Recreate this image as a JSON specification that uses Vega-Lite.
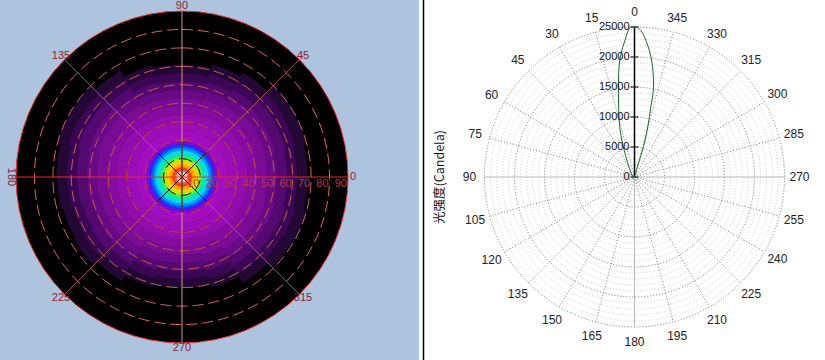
{"$schema":"https://vega.github.io/schema/vega-lite/v6.json","width":825,"height":360,"padding":0,"autosize":{"type":"none"},"background":"white","config":{"view":{"stroke":null}},
"resolve":{"scale":{"x":"independent","y":"independent","theta":"independent","radius":"independent"}},
"datasets":{
"heat":[
{"a":0,"b":360,"r":0,"s":3.3,"i":100},{"a":0,"b":360,"r":3.3,"s":4.4,"i":97},{"a":0,"b":360,"r":4.4,"s":5.5,"i":95},{"a":0,"b":360,"r":5.5,"s":7,"i":92},{"a":0,"b":360,"r":7,"s":8.5,"i":89},{"a":0,"b":360,"r":8.5,"s":9.8,"i":85},{"a":0,"b":360,"r":9.8,"s":11,"i":81},{"a":0,"b":360,"r":11,"s":12,"i":78},{"a":0,"b":360,"r":12,"s":13.2,"i":75},{"a":0,"b":360,"r":13.2,"s":14.5,"i":72},{"a":0,"b":360,"r":14.5,"s":15.8,"i":69},{"a":0,"b":360,"r":15.8,"s":17,"i":65},{"a":0,"b":360,"r":17,"s":18,"i":61},{"a":0,"b":360,"r":18,"s":19,"i":57},{"a":0,"b":360,"r":19,"s":20.5,"i":53},{"a":0,"b":360,"r":20.5,"s":22,"i":50},{"a":0,"b":360,"r":22,"s":25,"i":47},
{"a":0,"b":15,"r":25,"s":30.4,"i":42},{"a":0,"b":15,"r":30.4,"s":35.8,"i":36},{"a":0,"b":15,"r":35.8,"s":41.1,"i":30},{"a":0,"b":15,"r":41.1,"s":46.5,"i":24},{"a":0,"b":15,"r":46.5,"s":51.9,"i":18},{"a":0,"b":15,"r":51.9,"s":57.3,"i":12},{"a":0,"b":15,"r":57.3,"s":62.6,"i":7},{"a":0,"b":15,"r":62.6,"s":68,"i":3},
{"a":15,"b":30,"r":25,"s":30.6,"i":42},{"a":15,"b":30,"r":30.6,"s":36.1,"i":36},{"a":15,"b":30,"r":36.1,"s":41.7,"i":30},{"a":15,"b":30,"r":41.7,"s":47.2,"i":24},{"a":15,"b":30,"r":47.2,"s":52.8,"i":18},{"a":15,"b":30,"r":52.8,"s":58.4,"i":12},{"a":15,"b":30,"r":58.4,"s":63.9,"i":7},{"a":15,"b":30,"r":63.9,"s":69.5,"i":3},
{"a":30,"b":45,"r":25,"s":30.6,"i":42},{"a":30,"b":45,"r":30.6,"s":36.2,"i":36},{"a":30,"b":45,"r":36.2,"s":41.9,"i":30},{"a":30,"b":45,"r":41.9,"s":47.5,"i":24},{"a":30,"b":45,"r":47.5,"s":53.1,"i":18},{"a":30,"b":45,"r":53.1,"s":58.7,"i":12},{"a":30,"b":45,"r":58.7,"s":64.4,"i":7},{"a":30,"b":45,"r":64.4,"s":70,"i":3},
{"a":45,"b":60,"r":25,"s":30.1,"i":42},{"a":45,"b":60,"r":30.1,"s":35.1,"i":36},{"a":45,"b":60,"r":35.1,"s":40.2,"i":30},{"a":45,"b":60,"r":40.2,"s":45.2,"i":24},{"a":45,"b":60,"r":45.2,"s":50.3,"i":18},{"a":45,"b":60,"r":50.3,"s":55.4,"i":12},{"a":45,"b":60,"r":55.4,"s":60.4,"i":7},{"a":45,"b":60,"r":60.4,"s":65.5,"i":3},
{"a":60,"b":75,"r":25,"s":29.7,"i":42},{"a":60,"b":75,"r":29.7,"s":34.5,"i":36},{"a":60,"b":75,"r":34.5,"s":39.2,"i":30},{"a":60,"b":75,"r":39.2,"s":44,"i":24},{"a":60,"b":75,"r":44,"s":48.7,"i":18},{"a":60,"b":75,"r":48.7,"s":53.5,"i":12},{"a":60,"b":75,"r":53.5,"s":58.2,"i":7},{"a":60,"b":75,"r":58.2,"s":63,"i":3},
{"a":75,"b":105,"r":25,"s":29.5,"i":42},{"a":75,"b":105,"r":29.5,"s":34,"i":36},{"a":75,"b":105,"r":34,"s":38.5,"i":30},{"a":75,"b":105,"r":38.5,"s":43,"i":24},{"a":75,"b":105,"r":43,"s":47.5,"i":18},{"a":75,"b":105,"r":47.5,"s":52,"i":12},{"a":75,"b":105,"r":52,"s":56.5,"i":7},{"a":75,"b":105,"r":56.5,"s":61,"i":3},
{"a":105,"b":120,"r":25,"s":29.7,"i":42},{"a":105,"b":120,"r":29.7,"s":34.4,"i":36},{"a":105,"b":120,"r":34.4,"s":39.1,"i":30},{"a":105,"b":120,"r":39.1,"s":43.7,"i":24},{"a":105,"b":120,"r":43.7,"s":48.4,"i":18},{"a":105,"b":120,"r":48.4,"s":53.1,"i":12},{"a":105,"b":120,"r":53.1,"s":57.8,"i":7},{"a":105,"b":120,"r":57.8,"s":62.5,"i":3},
{"a":120,"b":135,"r":25,"s":30.2,"i":42},{"a":120,"b":135,"r":30.2,"s":35.4,"i":36},{"a":120,"b":135,"r":35.4,"s":40.6,"i":30},{"a":120,"b":135,"r":40.6,"s":45.7,"i":24},{"a":120,"b":135,"r":45.7,"s":50.9,"i":18},{"a":120,"b":135,"r":50.9,"s":56.1,"i":12},{"a":120,"b":135,"r":56.1,"s":61.3,"i":7},{"a":120,"b":135,"r":61.3,"s":66.5,"i":3},
{"a":135,"b":150,"r":25,"s":30.6,"i":42},{"a":135,"b":150,"r":30.6,"s":36.1,"i":36},{"a":135,"b":150,"r":36.1,"s":41.7,"i":30},{"a":135,"b":150,"r":41.7,"s":47.2,"i":24},{"a":135,"b":150,"r":47.2,"s":52.8,"i":18},{"a":135,"b":150,"r":52.8,"s":58.4,"i":12},{"a":135,"b":150,"r":58.4,"s":63.9,"i":7},{"a":135,"b":150,"r":63.9,"s":69.5,"i":3},
{"a":150,"b":165,"r":25,"s":30.6,"i":42},{"a":150,"b":165,"r":30.6,"s":36.2,"i":36},{"a":150,"b":165,"r":36.2,"s":41.9,"i":30},{"a":150,"b":165,"r":41.9,"s":47.5,"i":24},{"a":150,"b":165,"r":47.5,"s":53.1,"i":18},{"a":150,"b":165,"r":53.1,"s":58.7,"i":12},{"a":150,"b":165,"r":58.7,"s":64.4,"i":7},{"a":150,"b":165,"r":64.4,"s":70,"i":3},
{"a":165,"b":180,"r":25,"s":30.4,"i":42},{"a":165,"b":180,"r":30.4,"s":35.8,"i":36},{"a":165,"b":180,"r":35.8,"s":41.1,"i":30},{"a":165,"b":180,"r":41.1,"s":46.5,"i":24},{"a":165,"b":180,"r":46.5,"s":51.9,"i":18},{"a":165,"b":180,"r":51.9,"s":57.3,"i":12},{"a":165,"b":180,"r":57.3,"s":62.6,"i":7},{"a":165,"b":180,"r":62.6,"s":68,"i":3},
{"a":180,"b":195,"r":25,"s":30.3,"i":42},{"a":180,"b":195,"r":30.3,"s":35.6,"i":36},{"a":180,"b":195,"r":35.6,"s":40.9,"i":30},{"a":180,"b":195,"r":40.9,"s":46.2,"i":24},{"a":180,"b":195,"r":46.2,"s":51.6,"i":18},{"a":180,"b":195,"r":51.6,"s":56.9,"i":12},{"a":180,"b":195,"r":56.9,"s":62.2,"i":7},{"a":180,"b":195,"r":62.2,"s":67.5,"i":3},
{"a":195,"b":210,"r":25,"s":30.2,"i":42},{"a":195,"b":210,"r":30.2,"s":35.4,"i":36},{"a":195,"b":210,"r":35.4,"s":40.6,"i":30},{"a":195,"b":210,"r":40.6,"s":45.7,"i":24},{"a":195,"b":210,"r":45.7,"s":50.9,"i":18},{"a":195,"b":210,"r":50.9,"s":56.1,"i":12},{"a":195,"b":210,"r":56.1,"s":61.3,"i":7},{"a":195,"b":210,"r":61.3,"s":66.5,"i":3},
{"a":210,"b":225,"r":25,"s":30.3,"i":42},{"a":210,"b":225,"r":30.3,"s":35.6,"i":36},{"a":210,"b":225,"r":35.6,"s":40.9,"i":30},{"a":210,"b":225,"r":40.9,"s":46.2,"i":24},{"a":210,"b":225,"r":46.2,"s":51.6,"i":18},{"a":210,"b":225,"r":51.6,"s":56.9,"i":12},{"a":210,"b":225,"r":56.9,"s":62.2,"i":7},{"a":210,"b":225,"r":62.2,"s":67.5,"i":3},
{"a":225,"b":240,"r":25,"s":30,"i":42},{"a":225,"b":240,"r":30,"s":35,"i":36},{"a":225,"b":240,"r":35,"s":40,"i":30},{"a":225,"b":240,"r":40,"s":45,"i":24},{"a":225,"b":240,"r":45,"s":50,"i":18},{"a":225,"b":240,"r":50,"s":55,"i":12},{"a":225,"b":240,"r":55,"s":60,"i":7},{"a":225,"b":240,"r":60,"s":65,"i":3},
{"a":240,"b":255,"r":25,"s":29.6,"i":42},{"a":240,"b":255,"r":29.6,"s":34.1,"i":36},{"a":240,"b":255,"r":34.1,"s":38.7,"i":30},{"a":240,"b":255,"r":38.7,"s":43.2,"i":24},{"a":240,"b":255,"r":43.2,"s":47.8,"i":18},{"a":240,"b":255,"r":47.8,"s":52.4,"i":12},{"a":240,"b":255,"r":52.4,"s":56.9,"i":7},{"a":240,"b":255,"r":56.9,"s":61.5,"i":3},
{"a":255,"b":285,"r":25,"s":29.4,"i":42},{"a":255,"b":285,"r":29.4,"s":33.7,"i":36},{"a":255,"b":285,"r":33.7,"s":38.1,"i":30},{"a":255,"b":285,"r":38.1,"s":42.5,"i":24},{"a":255,"b":285,"r":42.5,"s":46.9,"i":18},{"a":255,"b":285,"r":46.9,"s":51.2,"i":12},{"a":255,"b":285,"r":51.2,"s":55.6,"i":7},{"a":255,"b":285,"r":55.6,"s":60,"i":3},
{"a":285,"b":300,"r":25,"s":29.6,"i":42},{"a":285,"b":300,"r":29.6,"s":34.2,"i":36},{"a":285,"b":300,"r":34.2,"s":38.9,"i":30},{"a":285,"b":300,"r":38.9,"s":43.5,"i":24},{"a":285,"b":300,"r":43.5,"s":48.1,"i":18},{"a":285,"b":300,"r":48.1,"s":52.7,"i":12},{"a":285,"b":300,"r":52.7,"s":57.4,"i":7},{"a":285,"b":300,"r":57.4,"s":62,"i":3},
{"a":300,"b":315,"r":25,"s":30.1,"i":42},{"a":300,"b":315,"r":30.1,"s":35.2,"i":36},{"a":300,"b":315,"r":35.2,"s":40.4,"i":30},{"a":300,"b":315,"r":40.4,"s":45.5,"i":24},{"a":300,"b":315,"r":45.5,"s":50.6,"i":18},{"a":300,"b":315,"r":50.6,"s":55.7,"i":12},{"a":300,"b":315,"r":55.7,"s":60.9,"i":7},{"a":300,"b":315,"r":60.9,"s":66,"i":3},
{"a":315,"b":330,"r":25,"s":30.5,"i":42},{"a":315,"b":330,"r":30.5,"s":36,"i":36},{"a":315,"b":330,"r":36,"s":41.5,"i":30},{"a":315,"b":330,"r":41.5,"s":47,"i":24},{"a":315,"b":330,"r":47,"s":52.5,"i":18},{"a":315,"b":330,"r":52.5,"s":58,"i":12},{"a":315,"b":330,"r":58,"s":63.5,"i":7},{"a":315,"b":330,"r":63.5,"s":69,"i":3},
{"a":330,"b":345,"r":25,"s":30.6,"i":42},{"a":330,"b":345,"r":30.6,"s":36.1,"i":36},{"a":330,"b":345,"r":36.1,"s":41.7,"i":30},{"a":330,"b":345,"r":41.7,"s":47.3,"i":24},{"a":330,"b":345,"r":47.3,"s":52.9,"i":18},{"a":330,"b":345,"r":52.9,"s":58.4,"i":12},{"a":330,"b":345,"r":58.4,"s":64,"i":7},{"a":330,"b":345,"r":64,"s":69.6,"i":3},
{"a":345,"b":360,"r":25,"s":30.4,"i":42},{"a":345,"b":360,"r":30.4,"s":35.8,"i":36},{"a":345,"b":360,"r":35.8,"s":41.1,"i":30},{"a":345,"b":360,"r":41.1,"s":46.5,"i":24},{"a":345,"b":360,"r":46.5,"s":51.9,"i":18},{"a":345,"b":360,"r":51.9,"s":57.3,"i":12},{"a":345,"b":360,"r":57.3,"s":62.6,"i":7},{"a":345,"b":360,"r":62.6,"s":68,"i":3}
],
"leftRings":[{"r":10},{"r":20},{"r":30},{"r":40},{"r":50},{"r":60},{"r":70},{"r":80}],
"leftSpokes":[
{"x":-63.6,"y":-63.6,"x2":63.6,"y2":63.6,"k":"diag"},{"x":-63.6,"y":63.6,"x2":63.6,"y2":-63.6,"k":"diag"},{"x":0,"y":-90,"x2":0,"y2":90,"k":"vert"},
{"x":-13.4,"y":-13.4,"x2":13.4,"y2":13.4,"k":"core"},{"x":-13.4,"y":13.4,"x2":13.4,"y2":-13.4,"k":"core"},{"x":0,"y":-19,"x2":0,"y2":19,"k":"core"},
{"x":-90,"y":0,"x2":90,"y2":0,"k":"horz"}],
"leftAngles":[{"a":0,"t":"0"},{"a":45,"t":"45"},{"a":90,"t":"90"},{"a":135,"t":"135"},{"a":225,"t":"225"},{"a":270,"t":"270"},{"a":315,"t":"315"}],
"leftRadial":[{"x":10,"t":"10"},{"x":20,"t":"20"},{"x":30,"t":"30"},{"x":40,"t":"40"},{"x":50,"t":"50"},{"x":60,"t":"60"},{"x":70,"t":"70"},{"x":80,"t":"80"},{"x":90,"t":"90"}],
"minorRings":[{"r":1000},{"r":2000},{"r":3000},{"r":4000},{"r":6000},{"r":7000},{"r":8000},{"r":9000},{"r":11000},{"r":12000},{"r":13000},{"r":14000},{"r":16000},{"r":17000},{"r":18000},{"r":19000},{"r":21000},{"r":22000},{"r":23000},{"r":24000}],
"majorRings":[{"r":5000},{"r":10000},{"r":15000},{"r":20000},{"r":25000}],
"spokes":[
{"x":-6470,"y":24148,"x2":6470,"y2":-24148},{"x":-12500,"y":21651,"x2":12500,"y2":-21651},{"x":-17678,"y":17678,"x2":17678,"y2":-17678},{"x":-21651,"y":12500,"x2":21651,"y2":-12500},{"x":-24148,"y":6470,"x2":24148,"y2":-6470},
{"x":-24148,"y":-6470,"x2":24148,"y2":6470},{"x":-21651,"y":-12500,"x2":21651,"y2":12500},{"x":-17678,"y":-17678,"x2":17678,"y2":17678},{"x":-12500,"y":-21651,"x2":12500,"y2":21651},{"x":-6470,"y":-24148,"x2":6470,"y2":24148}],
"axes":[{"x":0,"y":-25000,"x2":0,"y2":25000},{"x":-25000,"y":0,"x2":25000,"y2":0}],
"rightAngles":[{"a":0},{"a":15},{"a":30},{"a":45},{"a":60},{"a":75},{"a":90},{"a":105},{"a":120},{"a":135},{"a":150},{"a":165},{"a":180},{"a":195},{"a":210},{"a":225},{"a":240},{"a":255},{"a":270},{"a":285},{"a":300},{"a":315},{"a":330},{"a":345}],
"ticks":[{"x":-667,"x2":667,"x0":0,"v":0},{"x":-667,"x2":667,"x0":0,"v":5000},{"x":-667,"x2":667,"x0":0,"v":10000},{"x":-667,"x2":667,"x0":0,"v":15000},{"x":-667,"x2":667,"x0":0,"v":20000},{"x":-667,"x2":667,"x0":0,"v":25000}],
"curve":[
{"n":0,"x":0,"y":0},{"n":1,"x":667,"y":2280},{"n":2,"x":1500,"y":5060},{"n":3,"x":2220,"y":8400},{"n":4,"x":2720,"y":11730},{"n":5,"x":3170,"y":14790},{"n":6,"x":3000,"y":18400},{"n":7,"x":2450,"y":21180},{"n":8,"x":1500,"y":23690},{"n":9,"x":670,"y":24800},{"n":10,"x":0,"y":25000},
{"n":11,"x":-890,"y":24700},{"n":12,"x":-1560,"y":22850},{"n":13,"x":-2220,"y":20630},{"n":14,"x":-2610,"y":17850},{"n":15,"x":-2670,"y":13960},{"n":16,"x":-2560,"y":9510},{"n":17,"x":-2110,"y":6170},{"n":18,"x":-1280,"y":2840},{"n":19,"x":-440,"y":330},{"n":20,"x":0,"y":0}]
},
"layer":[
{"data":{"values":[{"x":-98.67,"x2":128.5,"y":-99.2,"y2":95.97}]},"mark":{"type":"rect","fill":"#AEC3DD"},
"encoding":{"x":{"field":"x","type":"quantitative","scale":{"domain":[-98.67,128.5],"range":[0,419],"nice":false,"zero":false},"axis":null},"x2":{"field":"x2"},"y":{"field":"y","type":"quantitative","scale":{"domain":[-99.2,95.97],"nice":false,"zero":false},"axis":null},"y2":{"field":"y2"}}},
{"data":{"values":[{"r":90}]},"mark":{"type":"arc","theta":0,"theta2":6.2832,"fill":"#000000"},
"encoding":{"x":{"datum":0,"type":"quantitative","scale":{"domain":[-98.67,128.5],"range":[0,419],"nice":false,"zero":false},"axis":null},"y":{"datum":0,"type":"quantitative","scale":{"domain":[-99.2,95.97],"nice":false,"zero":false},"axis":null},
"radius":{"field":"r","type":"quantitative","stack":null,"scale":{"type":"linear","domain":[0,90],"range":[0,166]}}}},
{"data":{"name":"heat"},"mark":{"type":"arc","strokeWidth":0.6},
"encoding":{"x":{"datum":0,"type":"quantitative","scale":{"domain":[-98.67,128.5],"range":[0,419],"nice":false,"zero":false},"axis":null},"y":{"datum":0,"type":"quantitative","scale":{"domain":[-99.2,95.97],"nice":false,"zero":false},"axis":null},
"theta":{"field":"a","type":"quantitative","stack":null,"scale":{"domain":[0,360],"range":[1.5708,-4.7124]}},"theta2":{"field":"b"},
"radius":{"field":"s","type":"quantitative","stack":null,"scale":{"type":"linear","domain":[0,90],"range":[0,166]}},"radius2":{"field":"r"},
"fill":{"field":"i","type":"quantitative","legend":null,"scale":{"domain":[0,1,4,10,20,35,50,57,62,68,72,76,80,84,88,92,95,97,100],"range":["#000000","#14021e","#2c0640","#4c0868","#700a8c","#920cac","#a80fc6","#7010e0","#2020f8","#1088f8","#10d8f0","#10f0b0","#40f060","#b0f010","#ffe000","#ffa000","#ff4010","#ff5050","#ffffff"]}},
"stroke":{"field":"i","type":"quantitative","legend":null,"scale":{"domain":[0,1,4,10,20,35,50,57,62,68,72,76,80,84,88,92,95,97,100],"range":["#000000","#14021e","#2c0640","#4c0868","#700a8c","#920cac","#a80fc6","#7010e0","#2020f8","#1088f8","#10d8f0","#10f0b0","#40f060","#b0f010","#ffe000","#ffa000","#ff4010","#ff5050","#ffffff"]}}}},
{"data":{"name":"leftRings"},"mark":{"type":"arc","theta":0,"theta2":6.2832,"filled":false,"strokeWidth":1,"strokeDash":[11,5]},
"encoding":{"x":{"datum":0,"type":"quantitative","scale":{"domain":[-98.67,128.5],"range":[0,419],"nice":false,"zero":false},"axis":null},"y":{"datum":0,"type":"quantitative","scale":{"domain":[-99.2,95.97],"nice":false,"zero":false},"axis":null},
"radius":{"field":"r","type":"quantitative","stack":null,"scale":{"type":"linear","domain":[0,90],"range":[0,166]}},
"stroke":{"field":"r","type":"ordinal","legend":null,"scale":{"domain":[10,20,30,40,50,60,70,80],"range":["#101010","#c84a10","#c04c28","#c05432","#c85a40","#c86050","#d86070","#e86070"]}}}},
{"data":{"values":[{"r":90}]},"mark":{"type":"arc","theta":0,"theta2":6.2832,"filled":false,"strokeWidth":1,"stroke":"#f03038"},
"encoding":{"x":{"datum":0,"type":"quantitative","scale":{"domain":[-98.67,128.5],"range":[0,419],"nice":false,"zero":false},"axis":null},"y":{"datum":0,"type":"quantitative","scale":{"domain":[-99.2,95.97],"nice":false,"zero":false},"axis":null},
"radius":{"field":"r","type":"quantitative","stack":null,"scale":{"type":"linear","domain":[0,90],"range":[0,166]}}}},
{"data":{"name":"leftSpokes"},"transform":[{"filter":"datum.k=='diag'"}],"mark":{"type":"rule","strokeWidth":1,"stroke":"#c8685a","opacity":0.8},
"encoding":{"x":{"field":"x","type":"quantitative","scale":{"domain":[-98.67,128.5],"range":[0,419],"nice":false,"zero":false},"axis":null},"y":{"field":"y","type":"quantitative","scale":{"domain":[-99.2,95.97],"nice":false,"zero":false},"axis":null},"x2":{"field":"x2"},"y2":{"field":"y2"}}},
{"data":{"name":"leftSpokes"},"transform":[{"filter":"datum.k=='vert'"}],"mark":{"type":"rule","strokeWidth":1,"stroke":"#d09880"},
"encoding":{"x":{"field":"x","type":"quantitative","scale":{"domain":[-98.67,128.5],"range":[0,419],"nice":false,"zero":false},"axis":null},"y":{"field":"y","type":"quantitative","scale":{"domain":[-99.2,95.97],"nice":false,"zero":false},"axis":null},"x2":{"field":"x2"},"y2":{"field":"y2"}}},
{"data":{"name":"leftSpokes"},"transform":[{"filter":"datum.k=='core'"}],"mark":{"type":"rule","strokeWidth":1,"stroke":"#101010"},
"encoding":{"x":{"field":"x","type":"quantitative","scale":{"domain":[-98.67,128.5],"range":[0,419],"nice":false,"zero":false},"axis":null},"y":{"field":"y","type":"quantitative","scale":{"domain":[-99.2,95.97],"nice":false,"zero":false},"axis":null},"x2":{"field":"x2"},"y2":{"field":"y2"}}},
{"data":{"name":"leftSpokes"},"transform":[{"filter":"datum.k=='horz'"}],"mark":{"type":"rule","strokeWidth":1,"stroke":"#ee2a1c"},
"encoding":{"x":{"field":"x","type":"quantitative","scale":{"domain":[-98.67,128.5],"range":[0,419],"nice":false,"zero":false},"axis":null},"y":{"field":"y","type":"quantitative","scale":{"domain":[-99.2,95.97],"nice":false,"zero":false},"axis":null},"x2":{"field":"x2"},"y2":{"field":"y2"}}},
{"data":{"name":"leftAngles"},"mark":{"type":"text","font":"Liberation Sans","fontSize":11,"color":"#8a1c34","align":"center","baseline":"middle"},
"encoding":{"x":{"datum":0,"type":"quantitative","scale":{"domain":[-98.67,128.5],"range":[0,419],"nice":false,"zero":false},"axis":null},"y":{"datum":0,"type":"quantitative","scale":{"domain":[-99.2,95.97],"nice":false,"zero":false},"axis":null},
"theta":{"field":"a","type":"quantitative","stack":null,"scale":{"domain":[0,360],"range":[1.5708,-4.7124]}},
"radius":{"datum":92.8,"type":"quantitative","scale":{"type":"linear","domain":[0,90],"range":[0,166]}},"text":{"field":"t"}}},
{"data":{"values":[{"x":-92.5,"y":0,"t":"180"}]},"mark":{"type":"text","font":"Liberation Sans","fontSize":11,"color":"#8a1c34","align":"center","baseline":"middle","angle":90},
"encoding":{"x":{"field":"x","type":"quantitative","scale":{"domain":[-98.67,128.5],"range":[0,419],"nice":false,"zero":false},"axis":null},"y":{"field":"y","type":"quantitative","scale":{"domain":[-99.2,95.97],"nice":false,"zero":false},"axis":null},"text":{"field":"t"}}},
{"data":{"name":"leftRadial"},"mark":{"type":"text","font":"Liberation Sans","fontSize":11,"color":"#b03c50","align":"right","baseline":"middle","dx":-1,"dy":7},
"encoding":{"x":{"field":"x","type":"quantitative","scale":{"domain":[-98.67,128.5],"range":[0,419],"nice":false,"zero":false},"axis":null},"y":{"datum":0,"type":"quantitative","scale":{"domain":[-99.2,95.97],"nice":false,"zero":false},"axis":null},"text":{"field":"t"}}},
{"data":{"values":[{"x":-35167}]},"mark":{"type":"rule","stroke":"#000000","strokeWidth":1.5},
"encoding":{"x":{"field":"x","type":"quantitative","scale":{"domain":[-35417,31750],"range":[422,825],"nice":false,"zero":false},"axis":null}}},
{"data":{"name":"minorRings"},"mark":{"type":"arc","theta":0,"theta2":6.2832,"filled":false,"stroke":"#cccccc","strokeWidth":1,"strokeDash":[1,2]},
"encoding":{"x":{"datum":0,"type":"quantitative","scale":{"domain":[-35417,31750],"range":[422,825],"nice":false,"zero":false},"axis":null},"y":{"datum":0,"type":"quantitative","scale":{"domain":[-30500,29500],"nice":false,"zero":false},"axis":null},
"radius":{"field":"r","type":"quantitative","stack":null,"scale":{"type":"linear","domain":[0,25000],"range":[0,150]}}}},
{"data":{"name":"majorRings"},"mark":{"type":"arc","theta":0,"theta2":6.2832,"filled":false,"stroke":"#707070","strokeWidth":1,"strokeDash":[1,2]},
"encoding":{"x":{"datum":0,"type":"quantitative","scale":{"domain":[-35417,31750],"range":[422,825],"nice":false,"zero":false},"axis":null},"y":{"datum":0,"type":"quantitative","scale":{"domain":[-30500,29500],"nice":false,"zero":false},"axis":null},
"radius":{"field":"r","type":"quantitative","stack":null,"scale":{"type":"linear","domain":[0,25000],"range":[0,150]}}}},
{"data":{"name":"spokes"},"mark":{"type":"rule","stroke":"#808080","strokeWidth":1,"strokeDash":[1,2]},
"encoding":{"x":{"field":"x","type":"quantitative","scale":{"domain":[-35417,31750],"range":[422,825],"nice":false,"zero":false},"axis":null},"y":{"field":"y","type":"quantitative","scale":{"domain":[-30500,29500],"nice":false,"zero":false},"axis":null},"x2":{"field":"x2"},"y2":{"field":"y2"}}},
{"data":{"name":"axes"},"mark":{"type":"rule","stroke":"#b8b8b8","strokeWidth":1},
"encoding":{"x":{"field":"x","type":"quantitative","scale":{"domain":[-35417,31750],"range":[422,825],"nice":false,"zero":false},"axis":null},"y":{"field":"y","type":"quantitative","scale":{"domain":[-30500,29500],"nice":false,"zero":false},"axis":null},"x2":{"field":"x2"},"y2":{"field":"y2"}}},
{"data":{"name":"rightAngles"},"mark":{"type":"text","font":"Liberation Sans","fontSize":12,"color":"#222222","align":"center","baseline":"middle"},
"encoding":{"x":{"datum":0,"type":"quantitative","scale":{"domain":[-35417,31750],"range":[422,825],"nice":false,"zero":false},"axis":null},"y":{"datum":0,"type":"quantitative","scale":{"domain":[-30500,29500],"nice":false,"zero":false},"axis":null},
"theta":{"field":"a","type":"quantitative","stack":null,"scale":{"domain":[0,360],"range":[0,-6.2832]}},
"radius":{"datum":27500,"type":"quantitative","scale":{"type":"linear","domain":[0,25000],"range":[0,150]}},"text":{"field":"a","type":"nominal"}}},
{"data":{"values":[{"x":0,"x2":0,"y":0,"y2":25000}]},"mark":{"type":"rule","stroke":"#000000","strokeWidth":1.5},
"encoding":{"x":{"field":"x","type":"quantitative","scale":{"domain":[-35417,31750],"range":[422,825],"nice":false,"zero":false},"axis":null},"x2":{"field":"x2"},"y":{"field":"y","type":"quantitative","scale":{"domain":[-30500,29500],"nice":false,"zero":false},"axis":null},"y2":{"field":"y2"}}},
{"data":{"name":"ticks"},"mark":{"type":"rule","stroke":"#000000","strokeWidth":1},
"encoding":{"x":{"field":"x","type":"quantitative","scale":{"domain":[-35417,31750],"range":[422,825],"nice":false,"zero":false},"axis":null},"x2":{"field":"x2"},"y":{"field":"v","type":"quantitative","scale":{"domain":[-30500,29500],"nice":false,"zero":false},"axis":null}}},
{"data":{"name":"curve"},"mark":{"type":"line","stroke":"#1a6a2a","strokeWidth":1,"interpolate":"cardinal"},
"encoding":{"x":{"field":"x","type":"quantitative","scale":{"domain":[-35417,31750],"range":[422,825],"nice":false,"zero":false},"axis":null},"y":{"field":"y","type":"quantitative","scale":{"domain":[-30500,29500],"nice":false,"zero":false},"axis":null},"order":{"field":"n"}}},
{"data":{"name":"ticks"},"mark":{"type":"text","font":"Liberation Sans","fontSize":11,"color":"#111111","align":"right","baseline":"middle","dx":-5},
"encoding":{"x":{"field":"x0","type":"quantitative","scale":{"domain":[-35417,31750],"range":[422,825],"nice":false,"zero":false},"axis":null},"y":{"field":"v","type":"quantitative","scale":{"domain":[-30500,29500],"nice":false,"zero":false},"axis":null},"text":{"field":"v","type":"nominal"}}},
{"data":{"values":[{"x":-32500,"y":0,"t":"光强度(Candela)"}]},"mark":{"type":"text","font":"Noto Sans CJK SC","fontSize":12.5,"color":"#111111","align":"center","baseline":"middle","angle":270},
"encoding":{"x":{"field":"x","type":"quantitative","scale":{"domain":[-35417,31750],"range":[422,825],"nice":false,"zero":false},"axis":null},"y":{"field":"y","type":"quantitative","scale":{"domain":[-30500,29500],"nice":false,"zero":false},"axis":null},"text":{"field":"t"}}}
]}
